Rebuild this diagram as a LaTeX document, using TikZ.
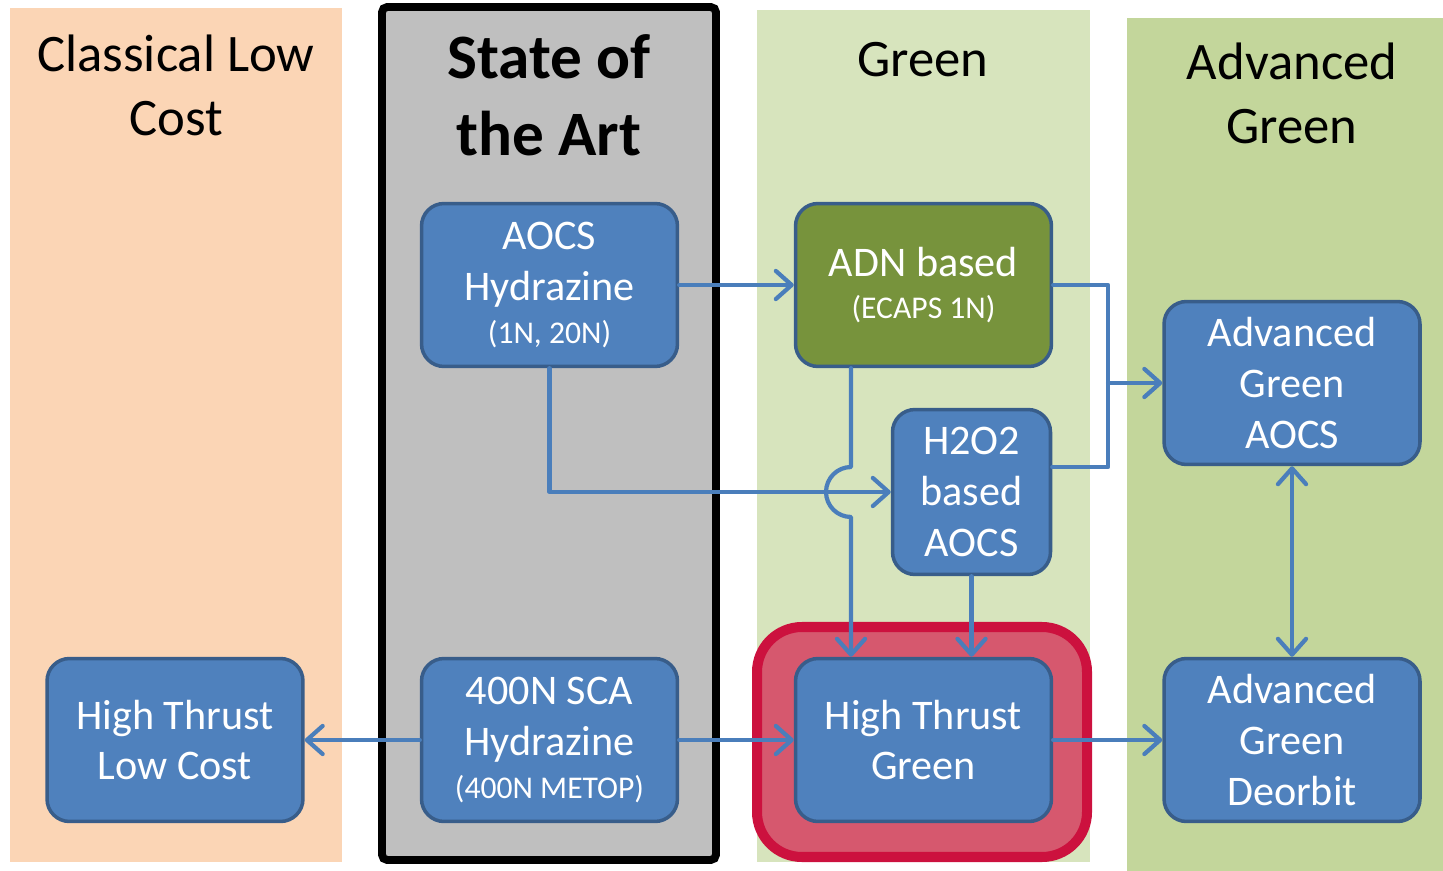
\documentclass[tikz,border=0pt]{standalone}
\usepackage{fontspec}
\setmainfont{Carlito}
\usetikzlibrary{arrows.meta,calc,positioning}

\definecolor{peach}{HTML}{FBD5B5}
\definecolor{artgray}{HTML}{BFBFBF}
\definecolor{palegreen}{HTML}{D7E4BD}
\definecolor{advgreen}{HTML}{C3D69B}
\definecolor{boxblue}{HTML}{4F81BD}
\definecolor{boxline}{HTML}{385D8A}
\definecolor{olive}{HTML}{77933C}
\definecolor{flowblue}{HTML}{4A7EBB}
\definecolor{hired}{RGB}{204,17,62}
\definecolor{hifill}{RGB}{214,88,110}

\begin{document}
\begin{tikzpicture}[x=0.02cm,y=-0.02cm,
    every text node part/.style={align=center},
    block/.style={draw=boxline,fill=boxblue,line width=2pt,rounded corners=0.45cm,
      minimum width=5.12cm,minimum height=3.26cm,text=white,inner sep=2pt,
      font=\fontsize{24}{29}\selectfont},
    header/.style={anchor=north,inner sep=0pt,font=\fontsize{30}{36}\selectfont},
    flow/.style={draw=flowblue,line width=2.4pt,line cap=round,line join=round},
    tip/.style={-{Straight Barb[length=9pt,width=16pt,line cap=round,line join=round]}},
    twotip/.style={{Straight Barb[length=9pt,width=16pt,line cap=round,line join=round]}-{Straight Barb[length=9pt,width=16pt,line cap=round,line join=round]}}]
    \useasboundingbox (0,0) rectangle (1443,871);

    % columns
    \fill[peach] (10,8) rectangle (342,862);
    \draw[line width=4.5pt,fill=artgray,rounded corners=3pt] (382,7) rectangle (716,860);
    \fill[palegreen] (757,10) rectangle (1090,862);
    \fill[advgreen] (1127,18) rectangle (1443,871);

    \node[header] (classical) at (176,35) {Classical Low\\Cost};
    \node[header,font=\bfseries\fontsize{36}{44}\selectfont] (soa) at (549,34) {State of\\the Art};
    \node[header] (green) at (923,42) {Green};
    \node[header] (advanced) at (1292,43) {Advanced\\Green};

    % highlight
    \draw[draw=hired,fill=hifill,line width=5.7pt,rounded corners=0.9cm] (757,627) rectangle (1087,857);

    \node[block] (aocs) at (549.5,285) {AOCS\\Hydrazine\\[-5pt]\fontsize{18}{22}\selectfont(1N, 20N)};
    \node[block,fill=olive] (adn) at (923.5,285) {ADN based\\[-5pt]\fontsize{18}{22}\selectfont(ECAPS 1N)};
    \node[block,minimum width=3.16cm,minimum height=3.3cm] (h2o2) at (971.5,492) {H2O2\\based\\AOCS};
    \node[block] (agaocs) at (1292,383) {Advanced\\Green\\AOCS};
    \node[block] (htlc) at (175,740) {High Thrust\\Low Cost};
    \node[block] (sca) at (549.5,740) {400N SCA\\Hydrazine\\[-5pt]\fontsize{18}{22}\selectfont(400N METOP)};
    \node[block] (htg) at (923.5,740) {High Thrust\\Green};
    \node[block] (agdeorbit) at (1292,740) {Advanced\\Green\\Deorbit};

    % connectors
    \coordinate (hop) at ([xshift=-1.45cm]adn.south |- h2o2.west);
    \coordinate (join) at (1108,383);
    \path[flow,tip] (aocs.east) -- (adn.west);
    \path[flow,tip] (aocs.south) |- (h2o2.west);
    \path[flow,tip] ([xshift=-1.45cm]adn.south) -- ([yshift=0.5cm]hop)
        arc[start angle=90,end angle=270,radius=0.5cm] -- ([xshift=-1.45cm]htg.north);
    \path[flow,tip] (h2o2.south) -- (h2o2.south |- htg.north);
    \path[flow] (adn.east) -| (join);
    \path[flow] ([yshift=0.5cm]h2o2.east) -| (join);
    \path[flow,tip] (join) -- (agaocs.west);
    \path[flow,tip] (sca.west) -- (htlc.east);
    \path[flow,tip] (sca.east) -- (htg.west);
    \path[flow,tip] (htg.east) -- (agdeorbit.west);
    \path[flow,twotip] (agaocs.south) -- (agdeorbit.north);
  \end{tikzpicture}
\end{document}
